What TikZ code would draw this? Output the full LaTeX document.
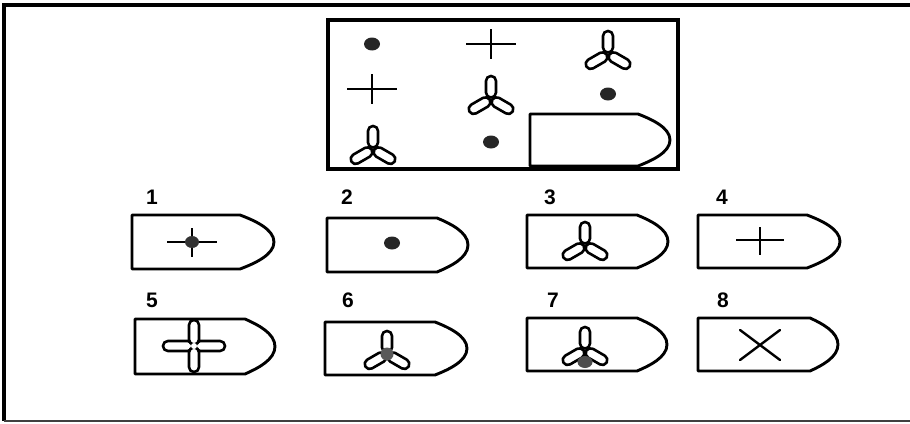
\documentclass[tikz,border=0pt]{standalone}
\usepackage{fontspec}
\setmainfont{Liberation Sans}
\begin{document}
\begin{tikzpicture}[x=1pt,y=-1pt,
  ln/.style={line width=2.9pt,line join=round,line cap=round},
  lbl/.style={font=\fontsize{21}{21}\selectfont\bfseries,inner sep=0pt},
  dotfill/.style={fill=black!85,draw=none}]
\useasboundingbox (0,0) rectangle (910,423);
% frame
\draw[line width=3.4pt] (910,5) -- (4,5) -- (4,421);
\draw[line width=1.8pt,black!75] (4,421) -- (910,421);
% top box
\draw[line width=3.6pt] (328,20) rectangle (678,169);

% commands
\newcommand\hullshape[6]{% L T B F tip name
  \draw[ln] (#1,#2) -- (#4,#2)
     .. controls ({#4+0.42*(#5-#4)},{#2+0.1*(#3-#2)}) and (#5,{(#2+#3)/2-0.24*(#3-#2)}) .. (#5,{(#2+#3)/2})
     .. controls (#5,{(#2+#3)/2+0.24*(#3-#2)}) and ({#4+0.42*(#5-#4)},{#3-0.1*(#3-#2)}) .. (#4,#3)
     -- (#1,#3) -- cycle;
  \coordinate (#6) at ({(#1+#5)/2},{(#2+#3)/2});}
\newcommand\myblade[4]{% x y angle length
  \draw[ln,line width=2.6pt,fill=white,shift={(#1,#2)},rotate=#3,rounded corners=4.9pt]
    (1.5,-5) rectangle (#4,5);}
\newcommand\myprop[2]{\myblade{#1}{#2}{90}{23}\myblade{#1}{#2}{-30}{25}\myblade{#1}{#2}{210}{25}}
\newcommand\mydot[2]{\fill[black!85] (#1,#2) ellipse [x radius=8pt,y radius=6.5pt];}
\newcommand\mycross[2]{\draw[ln,line cap=butt] ({#1-25},#2) -- ({#1+25},#2) ({#1},{#2-15}) -- ({#1},{#2+15});}

% top box content
\mydot{372}{44}
\mycross{491}{44}
\myprop{608}{54}
\mycross{372}{89}
\myprop{491}{99}
\mydot{608}{94}
\myprop{373}{149}
\mydot{491}{142}
\hullshape{530}{114}{166}{638}{670}{h0}

% hulls row 1
\hullshape{132}{215}{269}{240}{274}{h1}
\hullshape{327}{218}{272}{437}{468}{h2}
\hullshape{527}{215}{268}{637}{668}{h3}
\hullshape{698}{215}{268}{807}{840}{h4}
% hulls row 2
\hullshape{135}{319}{374}{245}{275}{h5}
\hullshape{325}{322}{375}{435}{467}{h6}
\hullshape{527}{318}{371}{637}{667}{h7}
\hullshape{698}{318}{371}{810}{838}{h8}

% labels
\node[lbl] (l1) at (152,197) {1};
\node[lbl] (l2) at (347,197) {2};
\node[lbl] (l3) at (550,197) {3};
\node[lbl] (l4) at (722,197) {4};
\node[lbl] (l5) at (152,300) {5};
\node[lbl] (l6) at (348,300) {6};
\node[lbl] (l7) at (553,300) {7};
\node[lbl] (l8) at (723,300) {8};

% symbol 1: cross with dot
\draw[ln,line cap=butt] (167,242) -- (217,242) (192,228) -- (192,257);
\fill[black!80] (192,242) ellipse [x radius=7pt,y radius=6pt];
% symbol 2: dot
\mydot{392}{243}
% symbol 3: propeller
\myprop{585}{245}
% symbol 4: cross
\draw[ln,line cap=butt] (736,240) -- (784,240) (760,227) -- (760,255);
% symbol 5: four blades
\myblade{194}{346}{0}{31}
\myblade{194}{346}{180}{31}
\myblade{194}{346}{90}{26}
\myblade{194}{346}{-90}{26}
\fill[white] (194,346) circle (3pt);
% symbol 6: propeller with dark hub
\myprop{387}{354}
\fill[black!65] (387,354) circle (6.5pt);
% symbol 7: propeller with dark dot below
\myprop{585}{350}
\fill[black!70] (585,362) ellipse [x radius=7.5pt,y radius=6pt];
% symbol 8: X
\draw[ln,line width=2.4pt] (740,330) -- (780,360) (740,360) -- (780,330);
\end{tikzpicture}
\end{document}
